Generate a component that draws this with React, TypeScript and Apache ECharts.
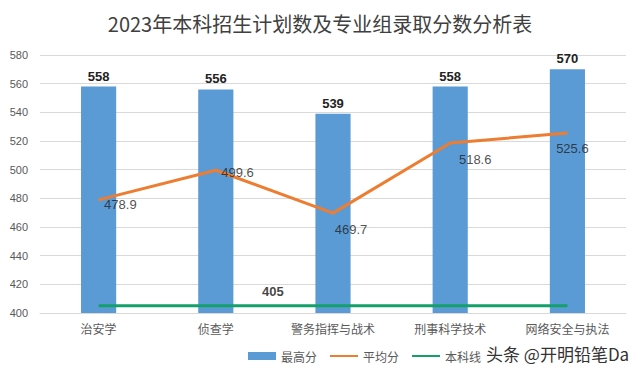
import React, { useEffect, useRef } from "react";
import * as echarts from "echarts";

const categories = ["治安学", "侦查学", "警务指挥与战术", "刑事科学技术", "网络安全与执法"];
const maxScores = [558, 556, 539, 558, 570];
const avgScores = [478.9, 499.6, 469.7, 518.6, 525.6];
const baseline = [405, 405, 405, 405, 405];
const yTicks = { min: 400, max: 580, interval: 20 };

export default function App() {
  const ref = useRef<HTMLDivElement>(null);
  useEffect(() => {
    const chart = echarts.init(ref.current!, null, { renderer: "svg" });
    const avgLabelCfg = [
      { position: "right", offset: [0, 5] },
      { position: "right", offset: [0, 2] },
      { position: "bottom", offset: [18, 4] },
      { position: "bottom", offset: [25, 4] },
      { position: "bottom", offset: [5, 4] },
    ];
    chart.setOption({
      animation: false,
      backgroundColor: "#ffffff",
      title: {
        text: "2023年本科招生计划数及专业组录取分数分析表",
        left: "center",
        top: 8,
        textStyle: {
          fontFamily: "Noto Sans CJK SC",
          fontSize: 20,
          fontWeight: "normal",
          color: "#404040",
        },
      },
      legend: {
        left: 243,
        top: 345,
        itemWidth: 28,
        itemHeight: 8,
        itemGap: 12,
        textStyle: { fontSize: 12, color: "#595959", fontFamily: "Noto Sans CJK SC" },
        data: [
          { name: "最高分", icon: "rect" },
          { name: "平均分", itemStyle: { opacity: 0 } },
          { name: "本科线", itemStyle: { opacity: 0 } },
        ],
      },
      grid: { left: 40, right: 14, top: 55, bottom: 63 },
      xAxis: {
        type: "category",
        data: categories,
        axisLine: { lineStyle: { color: "#d9d9d9" } },
        axisTick: { show: false },
        axisLabel: { color: "#595959", fontSize: 12, margin: 9, fontFamily: "Noto Sans CJK SC" },
      },
      yAxis: {
        type: "value",
        min: yTicks.min,
        max: yTicks.max,
        interval: yTicks.interval,
        axisLine: { show: false },
        axisTick: { show: false },
        splitLine: { lineStyle: { color: "#d9d9d9" } },
        axisLabel: { color: "#595959", fontSize: 11, margin: 12 },
      },
      series: [
        {
          name: "最高分",
          type: "bar",
          data: maxScores,
          barWidth: "30%",
          itemStyle: { color: "#5B9BD5" },
          label: {
            show: true,
            position: "top",
            color: "#222",
            fontSize: 13,
            fontWeight: "bold",
            distance: 4,
          },
        },
        {
          name: "平均分",
          type: "line",
          data: avgScores,
          symbol: "none",
          lineStyle: { color: "#ED7D31", width: 3 },
          itemStyle: { color: "#ED7D31" },
        },
        {
          name: "本科线",
          type: "line",
          data: baseline,
          symbol: "none",
          lineStyle: { color: "#13A06B", width: 3 },
          itemStyle: { color: "#13A06B" },
        },
        {
          name: "平均分标签",
          type: "scatter",
          symbolSize: 1,
          itemStyle: { color: "rgba(0,0,0,0)" },
          silent: true,
          z: 5,
          data: avgScores.map((v, i) => ({
            value: v,
            label: {
              show: true,
              position: avgLabelCfg[i].position,
              offset: avgLabelCfg[i].offset,
              color: "#222",
              fontSize: 13,
            },
          })),
        },
        {
          name: "本科线标签",
          type: "scatter",
          symbolSize: 1,
          itemStyle: { color: "rgba(0,0,0,0)" },
          silent: true,
          z: 5,
          data: baseline.map((v, i) =>
            i === 1
              ? {
                  value: v,
                  label: {
                    show: true,
                    position: "top",
                    offset: [57, -2],
                    fontWeight: "bold",
                    fontSize: 13,
                    color: "#111",
                  },
                }
              : { value: v, label: { show: false } }
          ),
        },
      ],
      graphic: [
        {
          type: "text",
          left: 486,
          top: 345,
          style: {
            text: "头条 @开明铅笔Da",
            fontSize: 17,
            fill: "#333",
            fontFamily: "Noto Sans CJK SC",
          },
        },
      ],
    });
    return () => chart.dispose();
  }, []);
  return (
    <div
      ref={ref}
      style={{ position: "fixed", left: 0, top: 0, width: 640, height: 376 }}
    />
  );
}
